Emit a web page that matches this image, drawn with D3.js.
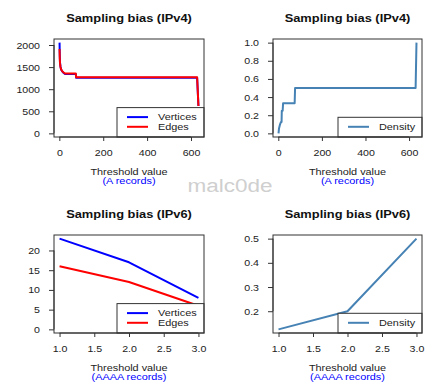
<!DOCTYPE html>
<html>
<head>
<meta charset="utf-8">
<script src="https://cdn.jsdelivr.net/npm/d3@7"></script>
<style>
    body {margin: 0; background: #fff;}
    svg {display: block;}
    text {font-family: "Liberation Sans", Arial, Helvetica, sans-serif;}
</style>
</head>
<body>
<svg id="main-svg" width="436" height="392"></svg>
<script>
'use strict';

// IPv4 (A records)
const v4_threshold = [1, 2, 3, 5, 8, 12, 18, 26, 75, 77, 628, 634];
const v4_vertices = [2054, 1760, 1610, 1520, 1445, 1410, 1375, 1345, 1345, 1258, 1258, 620];
const v4_edges = [1910, 1700, 1590, 1510, 1450, 1415, 1385, 1355, 1355, 1270, 1270, 620];
const v4_density_threshold = [1, 3, 8, 12, 15, 16, 20, 22, 75, 77, 630, 634];
const v4_density = [0, 0.05, 0.1, 0.125, 0.125, 0.25, 0.25, 0.333, 0.333, 0.5, 0.5, 1];

// IPv6 (AAAA records)
const v6_threshold = [1, 2, 3];
const v6_vertices = [23, 17, 8];
const v6_edges = [16, 12, 6];
const v6_density = [0.125, 0.2, 0.5];

// tick labels
const v4_x_ticks = [0, 200, 400, 600];
const v4_count_ticks = [0, 500, 1000, 1500, 2000];
const v4_density_ticks = [0, 0.2, 0.4, 0.6, 0.8, 1.0];
const v6_x_ticks = [1, 1.5, 2, 2.5, 3];
const v6_count_ticks = [0, 5, 10, 15, 20];
const v6_density_ticks = [0.2, 0.3, 0.4, 0.5];

const STRETCH = 1.25;   // text in the picture is a bit wide

const svg = d3.select('#main-svg');

const pad = (lo, hi) => {
    const d = (hi - lo) * 0.04;
    return [lo - d, hi + d];
};

const draw_panel = (p) => {
    const g = svg.append('g');
    const x = d3.scaleLinear().domain(pad(...p.xlim)).range([p.left, p.right]);
    const y = d3.scaleLinear().domain(pad(...p.ylim)).range([p.bottom, p.top]);

    // lines
    p.series.forEach((s) => {
        const pts = s.xs.map((v, i) => [v, s.ys[i]]);
        g.append('path')
            .datum(pts)
            .attr('fill', 'none')
            .attr('stroke', s.color)
            .attr('stroke-width', 2)
            .attr('stroke-linejoin', 'round')
            .attr('d', d3.line().x(d => x(d[0])).y(d => y(d[1])));
    });

    // legend, white box over the lines
    const lg = g.append('g');
    const lh = p.series.length * 9.7 + 10;
    lg.append('rect')
        .attr('x', p.legend_x).attr('y', p.bottom - lh)
        .attr('width', p.right - p.legend_x).attr('height', lh)
        .attr('fill', '#fff').attr('stroke', '#333').attr('stroke-width', 1);
    p.series.forEach((s, i) => {
        const ly = p.bottom - lh + 9.5 + i * 9.7;
        lg.append('line')
            .attr('x1', p.legend_x + 10).attr('x2', p.legend_x + 31)
            .attr('y1', ly).attr('y2', ly)
            .attr('stroke', s.color).attr('stroke-width', 2);
        lg.append('text')
            .attr('transform', `translate(${p.legend_x + 41},${ly + 3}) scale(${STRETCH},1)`)
            .attr('font-size', 8.7)
            .attr('fill', '#222')
            .text(s.name);
    });

    // box
    g.append('rect')
        .attr('x', p.left).attr('y', p.top)
        .attr('width', p.right - p.left).attr('height', p.bottom - p.top)
        .attr('fill', 'none').attr('stroke', '#333').attr('stroke-width', 1);

    // axes
    const ax = g.append('g')
        .attr('transform', `translate(0,${p.bottom})`)
        .call(d3.axisBottom(x).tickValues(p.x_ticks).tickSize(4).tickSizeOuter(0)
            .tickFormat(p.x_fmt));
    ax.select('.domain').remove();
    ax.append('line')
        .attr('x1', x(p.x_ticks[0])).attr('x2', x(p.x_ticks[p.x_ticks.length - 1]))
        .attr('stroke', '#333');
    ax.selectAll('.tick line').attr('stroke', '#333');
    ax.selectAll('.tick text')
        .attr('y', null).attr('dy', null)
        .attr('transform', `translate(0,18.5) scale(${STRETCH},1)`)
        .attr('font-size', 8.5).attr('fill', '#222');

    const ay = g.append('g')
        .attr('transform', `translate(${p.left},0)`)
        .call(d3.axisLeft(y).tickValues(p.y_ticks).tickSize(5).tickSizeOuter(0)
            .tickFormat(p.y_fmt));
    ay.select('.domain').remove();
    ay.append('line')
        .attr('y1', y(p.y_ticks[0])).attr('y2', y(p.y_ticks[p.y_ticks.length - 1]))
        .attr('stroke', '#333');
    ay.selectAll('.tick line').attr('stroke', '#333');
    ay.selectAll('.tick text')
        .attr('x', null).attr('dy', null)
        .attr('transform', `translate(-14,3) scale(${STRETCH},1)`)
        .attr('font-size', 8.5).attr('fill', '#222');

    // titles
    const cx = (p.left + p.right) / 2;
    g.append('text')
        .attr('transform', `translate(${cx},${p.top - 17}) scale(${STRETCH},1)`)
        .attr('text-anchor', 'middle').attr('font-size', 10.3).attr('font-weight', 'bold')
        .attr('fill', '#111')
        .text(p.title);
    g.append('text')
        .attr('transform', `translate(${cx},${p.bottom + 38}) scale(${STRETCH},1)`)
        .attr('text-anchor', 'middle').attr('font-size', 8.7).attr('fill', '#222')
        .text('Threshold value');
    g.append('text')
        .attr('transform', `translate(${cx},${p.bottom + 46.8}) scale(${STRETCH},1)`)
        .attr('text-anchor', 'middle').attr('font-size', 8.7).attr('fill', '#0000ff')
        .text(p.sub);
};

const LEFT = [54, 204];
const RIGHT = [273, 422];
const TOP = [39, 137];
const BOTTOM = [235, 333];

const fmt1 = d3.format('.1f');

draw_panel({
    left: LEFT[0], right: LEFT[1], top: TOP[0], bottom: TOP[1],
    xlim: [1, 634], ylim: [0, 2054],
    x_ticks: v4_x_ticks, y_ticks: v4_count_ticks, x_fmt: d3.format('d'), y_fmt: d3.format('d'),
    title: 'Sampling bias (IPv4)', sub: '(A records)', legend_x: 117,
    series: [
        {name: 'Vertices', color: '#0000ff', xs: v4_threshold, ys: v4_vertices},
        {name: 'Edges', color: '#ff0000', xs: v4_threshold, ys: v4_edges},
    ],
});

draw_panel({
    left: RIGHT[0], right: RIGHT[1], top: TOP[0], bottom: TOP[1],
    xlim: [1, 634], ylim: [0, 1],
    x_ticks: v4_x_ticks, y_ticks: v4_density_ticks, x_fmt: d3.format('d'), y_fmt: fmt1,
    title: 'Sampling bias (IPv4)', sub: '(A records)', legend_x: 338,
    series: [
        {name: 'Density', color: '#4682b4', xs: v4_density_threshold, ys: v4_density},
    ],
});

draw_panel({
    left: LEFT[0], right: LEFT[1], top: BOTTOM[0], bottom: BOTTOM[1],
    xlim: [1, 3], ylim: [0, 23],
    x_ticks: v6_x_ticks, y_ticks: v6_count_ticks, x_fmt: fmt1, y_fmt: d3.format('d'),
    title: 'Sampling bias (IPv6)', sub: '(AAAA records)', legend_x: 117,
    series: [
        {name: 'Vertices', color: '#0000ff', xs: v6_threshold, ys: v6_vertices},
        {name: 'Edges', color: '#ff0000', xs: v6_threshold, ys: v6_edges},
    ],
});

draw_panel({
    left: RIGHT[0], right: RIGHT[1], top: BOTTOM[0], bottom: BOTTOM[1],
    xlim: [1, 3], ylim: [0.125, 0.5],
    x_ticks: v6_x_ticks, y_ticks: v6_density_ticks, x_fmt: fmt1, y_fmt: fmt1,
    title: 'Sampling bias (IPv6)', sub: '(AAAA records)', legend_x: 338,
    series: [
        {name: 'Density', color: '#4682b4', xs: v6_threshold, ys: v6_density},
    ],
});

// watermark
svg.append('text')
    .attr('transform', `translate(230,192) scale(${STRETCH},1)`)
    .attr('text-anchor', 'middle')
    .attr('font-size', 18)
    .attr('fill', '#cfcfcf')
    .text('malc0de');
</script>
</body>
</html>
